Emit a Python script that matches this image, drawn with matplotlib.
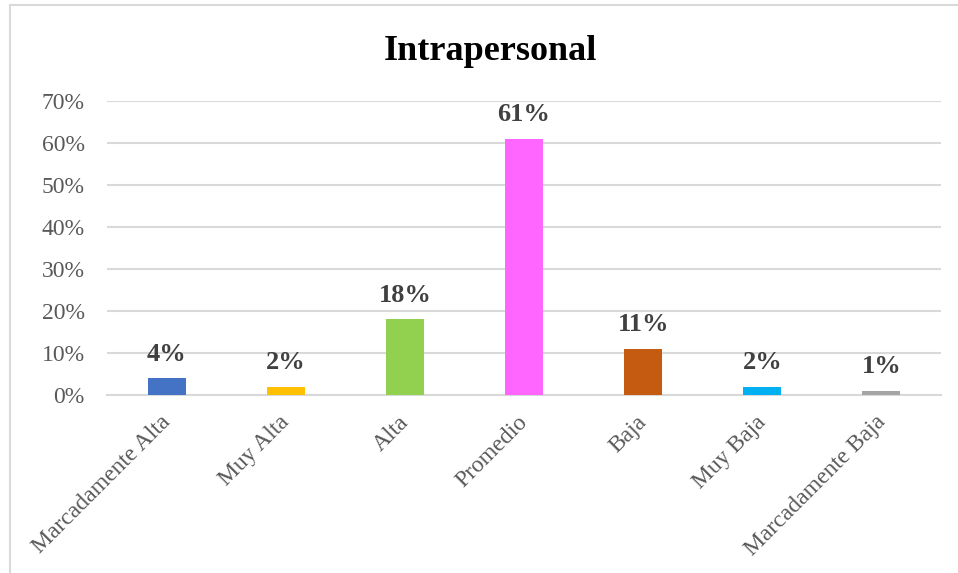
import matplotlib.pyplot as plt
from matplotlib.patches import Rectangle
from matplotlib.ticker import PercentFormatter
from matplotlib.transforms import ScaledTranslation

categorias = ['Marcadamente Alta', 'Muy Alta', 'Alta', 'Promedio',
              'Baja', 'Muy Baja', 'Marcadamente Baja']
porcentajes = [4, 2, 18, 61, 11, 2, 1]
colores = ['#4472c4', '#ffc000', '#92d050', '#ff66ff',
           '#c55a11', '#00b0f0', '#a5a5a5']

plt.rcParams['font.family'] = ['Liberation Serif', 'DejaVu Serif']

fig = plt.figure(figsize=(9.58, 5.73), dpi=100)
W, H = 958, 573

# marco del grafico
fig.patches.append(Rectangle((10 / W, -0.2), 1.2, 1.2 - 5 / H,
                             transform=fig.transFigure, fill=False,
                             edgecolor='#d9d9d9', linewidth=1.5))

ax = fig.add_axes([107 / W, 1 - 395 / H, (941 - 107) / W, (395 - 101) / H])
x = range(len(categorias))
ax.bar(x, porcentajes, width=0.32, color=colores, zorder=3)

# etiquetas de datos
for xi, v in zip(x, porcentajes):
    ax.annotate(f'{v}%', (xi, v), xytext=(0, 9), textcoords='offset points',
                ha='center', va='bottom', fontsize=19, fontweight='bold',
                color='#404040')

ax.set_xlim(-0.5, len(categorias) - 0.5)
ax.set_ylim(0, 70)
ax.set_yticks(range(0, 71, 10))
ax.yaxis.set_major_formatter(PercentFormatter(decimals=0))
ax.grid(axis='y', color='#d9d9d9', linewidth=1.5, zorder=0)
ax.set_axisbelow(True)
for s in ['top', 'right', 'left']:
    ax.spines[s].set_visible(False)
ax.spines['bottom'].set_color('#d9d9d9')
ax.spines['bottom'].set_linewidth(1.5)
ax.tick_params(axis='both', length=0, labelsize=17, labelcolor='#595959')
ax.tick_params(axis='y', pad=16)
ax.tick_params(axis='x', pad=12)
ax.set_xticks(list(x))
ax.set_xticklabels(categorias, rotation=45, ha='right', rotation_mode='anchor')
desplaz = ScaledTranslation(-5 / 72, 0, fig.dpi_scale_trans)
for lbl in ax.get_xticklabels():
    lbl.set_transform(lbl.get_transform() + desplaz)

fig.text(490 / W, 1 - 51 / H, 'Intrapersonal', ha='center', va='center',
         fontsize=26, fontweight='bold', color='black')

fig.savefig('out.png', dpi=100)
